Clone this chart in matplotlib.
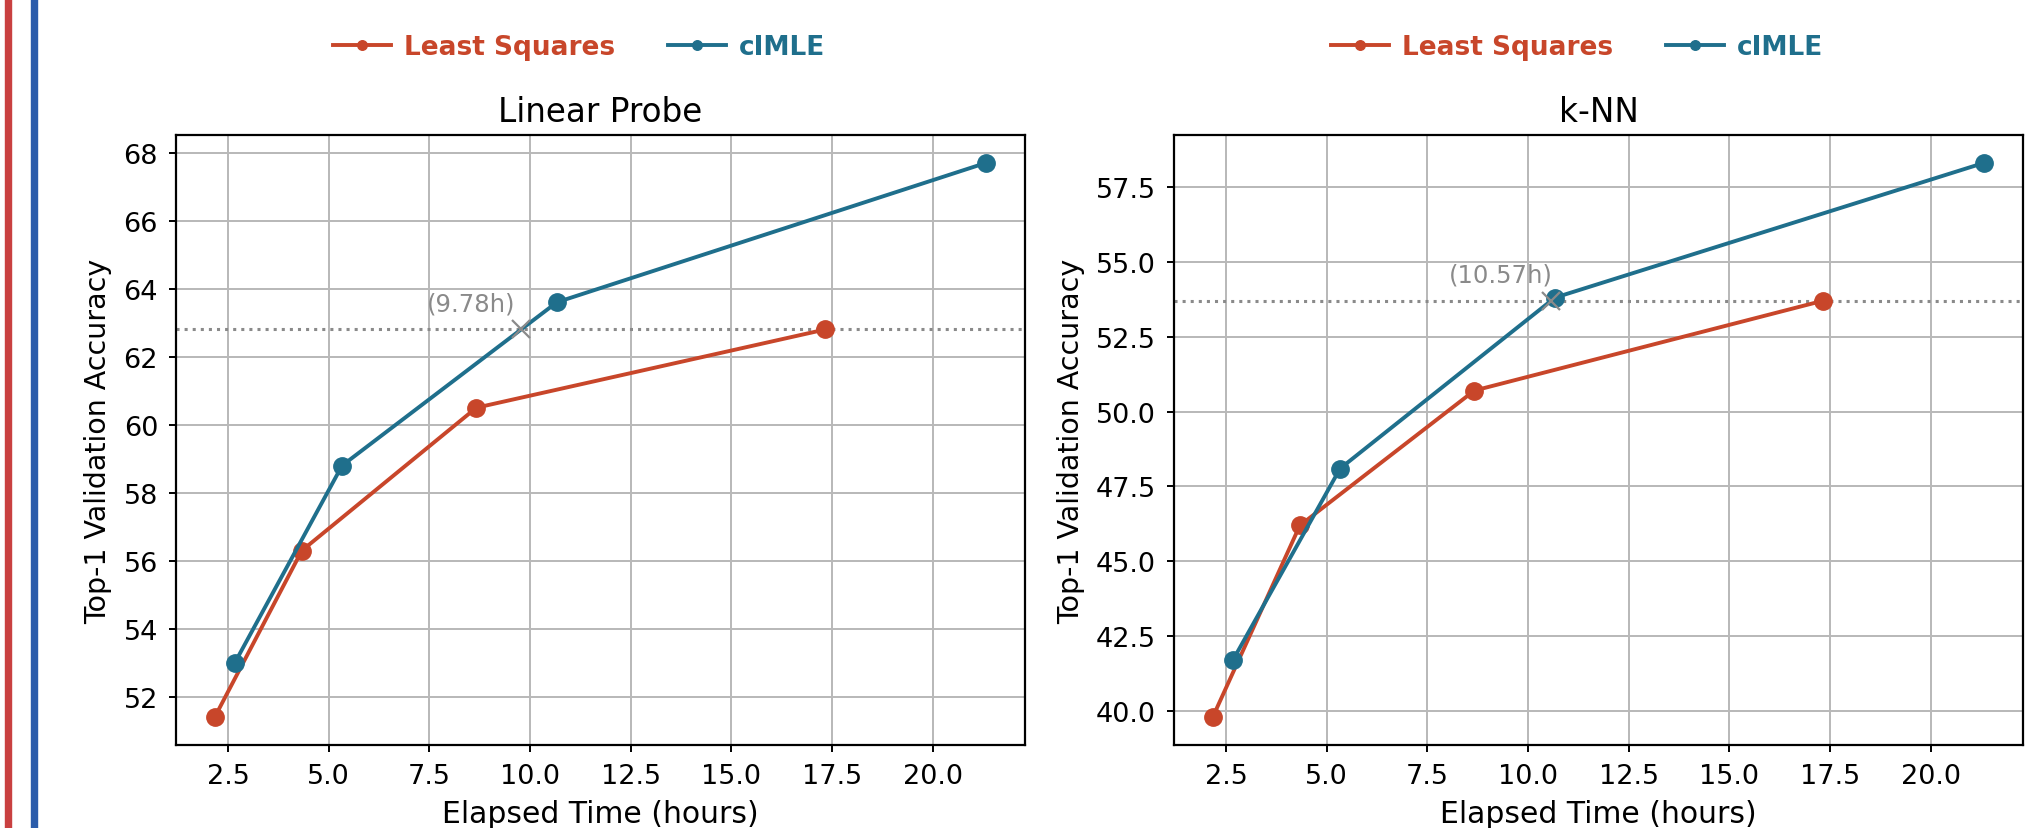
import numpy as np
import matplotlib
matplotlib.use("Agg")
import matplotlib.pyplot as plt
from matplotlib.patches import Rectangle

# tempi (ore) e accuratezze
ls_hours = [2.167, 4.333, 8.667, 17.333]
clmle_hours = [2.667, 5.333, 10.667, 21.333]

linear_ls = [51.4, 56.3, 60.5, 62.8]
linear_clmle = [53.0, 58.8, 63.6, 67.7]

knn_ls = [39.8, 46.2, 50.7, 53.7]
knn_clmle = [41.7, 48.1, 53.8, 58.3]

panel_titles = ["Linear Probe", "k-NN"]
series_names = ["Least Squares", "cIMLE"]

RED = "#c8462a"
BLUE = "#1f6f8c"
GREY = "#8a8a8a"

plt.rcParams["font.family"] = ["DejaVu Sans"]

fig = plt.figure(figsize=(20.26, 8.29), dpi=100)

# strisce decorative a sinistra
fig.patches.append(Rectangle((0.0025, 0), 0.003, 1, transform=fig.transFigure,
                             color="#c94040", zorder=0))
fig.patches.append(Rectangle((0.0155, 0), 0.003, 1, transform=fig.transFigure,
                             color="#2b5caa", zorder=0))

axes = [
    fig.add_axes([0.0869, 0.1001, 0.419, 0.7358]),
    fig.add_axes([0.5795, 0.1001, 0.419, 0.7358]),
]

panels = [(linear_ls, linear_clmle), (knn_ls, knn_clmle)]

for ax, title, (ls_acc, cl_acc) in zip(axes, panel_titles, panels):
    ax.grid(True, color="#b8b8b8", linewidth=1.4, zorder=0)
    ax.plot(ls_hours, ls_acc, "-o", color=RED, lw=2.8, ms=12.5,
            label=series_names[0], zorder=3)
    ax.plot(clmle_hours, cl_acc, "-o", color=BLUE, lw=2.8, ms=12.5,
            label=series_names[1], zorder=3)

    target = ls_acc[-1]
    ax.axhline(target, color=GREY, ls=":", lw=2.2, zorder=2)

    # dove cIMLE raggiunge l'accuratezza finale di Least Squares
    cross_x = np.interp(target, cl_acc, clmle_hours)
    ax.plot([cross_x], [target], "x", color=GREY, ms=13, mew=1.6, zorder=4)
    ax.annotate(f"({cross_x:.2f}h)", (cross_x, target), xytext=(-36, 10),
                textcoords="offset points", ha="center", va="bottom",
                color=GREY, fontsize=17.5)

    ax.set_title(title, fontsize=23.5, pad=10)
    ax.set_xlabel("Elapsed Time (hours)", fontsize=21.5, labelpad=7)
    ax.set_ylabel("Top-1 Validation Accuracy", fontsize=20.5, labelpad=8)
    ax.set_xticks([2.5, 5.0, 7.5, 10.0, 12.5, 15.0, 17.5, 20.0])
    ax.tick_params(labelsize=19.5, length=5, width=1.4, pad=8)
    for sp in ax.spines.values():
        sp.set_linewidth(1.6)

    leg = ax.legend(loc="center", bbox_to_anchor=(0.475, 1.144), ncol=2,
                    frameon=False, handlelength=2.2, handletextpad=0.5,
                    columnspacing=2.0, markerscale=0.55,
                    prop={"family": "DejaVu Sans", "weight": "bold", "size": 19})
    for txt, col in zip(leg.get_texts(), [RED, BLUE]):
        txt.set_color(col)

axes[0].set_yticks([52, 54, 56, 58, 60, 62, 64, 66, 68])

fig.savefig("out.png", dpi=100)
